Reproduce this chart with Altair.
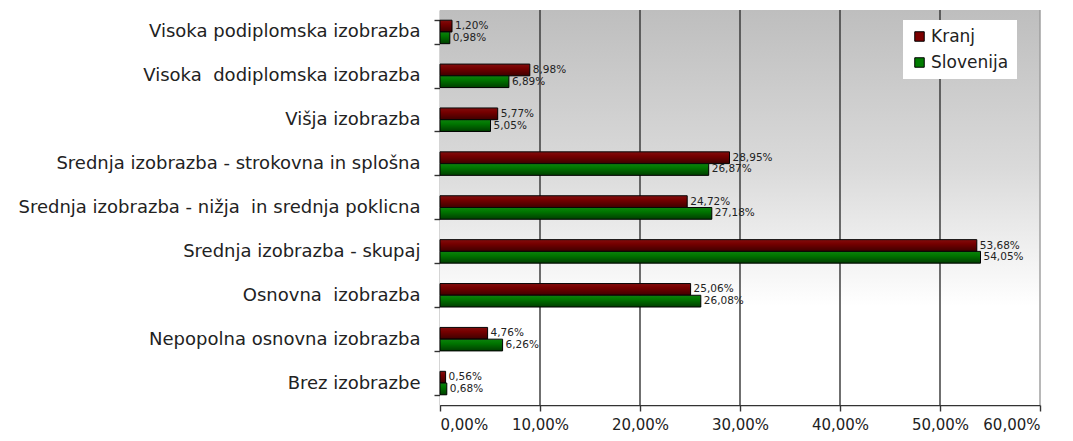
import altair as alt
import pandas as pd

categories = [
    "Visoka podiplomska izobrazba",
    "Visoka\u00a0 dodiplomska izobrazba",
    "Višja izobrazba",
    "Srednja izobrazba - strokovna in splošna",
    "Srednja izobrazba - nižja\u00a0 in srednja poklicna",
    "Srednja izobrazba - skupaj",
    "Osnovna\u00a0 izobrazba",
    "Nepopolna osnovna izobrazba",
    "Brez izobrazbe",
]
series = ["Kranj", "Slovenija"]
kranj = [1.20, 8.98, 5.77, 28.95, 24.72, 53.68, 25.06, 4.76, 0.56]
slovenija = [0.98, 6.89, 5.05, 26.87, 27.18, 54.05, 26.08, 6.26, 0.68]
x_ticks = [0, 10, 20, 30, 40, 50, 60]
grid_vals = [10, 20, 30, 40, 50, 60]

rows = []
for c, k, s in zip(categories, kranj, slovenija):
    rows.append({"cat": c, "series": "Kranj", "v": k})
    rows.append({"cat": c, "series": "Slovenija", "v": s})
df = pd.DataFrame(rows)

W, H = 600, 395
FONT = "DejaVu Sans"

xscale = alt.Scale(domain=[0, 60], nice=False)

bg = alt.Chart(pd.DataFrame({"a": [0]})).mark_rect(
    color={"gradient": "linear", "x1": 0, "y1": 0, "x2": 0, "y2": 1,
           "stops": [{"offset": 0, "color": "#bebebe"},
                     {"offset": 0.4, "color": "#dadada"},
                     {"offset": 0.75, "color": "#ffffff"},
                     {"offset": 1, "color": "#ffffff"}]}
).encode(x=alt.value(0), x2=alt.value(W), y=alt.value(0), y2=alt.value(H))

grid = alt.Chart(pd.DataFrame({"g": grid_vals})).mark_rule(strokeWidth=1.4).encode(
    x=alt.X("g:Q", scale=xscale),
    y=alt.value(0), y2=alt.value(H),
    color=alt.condition("datum.g >= 60", alt.value("#9a9a9a"), alt.value("#333333")),
)

xenc = alt.X("v:Q", scale=xscale,
             axis=alt.Axis(values=x_ticks, title=None,
                           labelExpr="replace(format(datum.value, '.2f'), '.', ',') + '%'",
                           grid=False, domainColor="#333333", domainWidth=1.4,
                           tickColor="#333333", tickSize=6, tickWidth=1.4,
                           labelFontSize=15, labelFont=FONT, labelColor="#222222",
                           labelPadding=6))
yenc = alt.Y("cat:N", sort=categories,
             scale=alt.Scale(paddingInner=0.465, paddingOuter=0.2325),
             axis=alt.Axis(title=None, tickBand="extent", tickSize=6, tickColor="#333333",
                           tickWidth=1.4, domainColor="#333333", domainWidth=1.4,
                           labelFontSize=18, labelFont=FONT, labelColor="#222222",
                           labelPadding=14, labelLimit=0))
yoff = alt.YOffset("series:N", sort=series)

bars = alt.Chart(df).mark_bar(stroke="#000000", strokeWidth=1).encode(
    x=xenc, y=yenc, yOffset=yoff,
    color=alt.Color("series:N", sort=series,
                    scale=alt.Scale(domain=series, range=["#7c0000", "#007c00"]),
                    legend=alt.Legend(title=None, orient="none", legendX=463, legendY=10,
                                      fillColor="#ffffff", padding=8, symbolType="square",
                                      symbolSize=90, symbolStrokeColor="#000000",
                                      symbolStrokeWidth=1, labelFontSize=17, labelFont=FONT,
                                      labelColor="#222222", rowPadding=8, symbolOffset=0,
                                      labelOffset=3)),
)

shade = alt.Chart(df).mark_bar(
    color={"gradient": "linear", "x1": 0, "y1": 0, "x2": 0, "y2": 1,
           "stops": [{"offset": 0, "color": "rgba(255,255,255,0.05)"},
                     {"offset": 0.35, "color": "rgba(0,0,0,0.05)"},
                     {"offset": 1, "color": "rgba(0,0,0,0.5)"}]}
).encode(x="v:Q", y=alt.Y("cat:N", sort=categories), yOffset=yoff)

labels = alt.Chart(df).mark_text(align="left", baseline="middle", dx=3, fontSize=10.5,
                                 font=FONT, color="#222222").encode(
    x="v:Q", y=alt.Y("cat:N", sort=categories), yOffset=yoff,
    text=alt.Text("lbl:N"),
).transform_calculate(lbl="replace(format(datum.v, '.2f'), '.', ',') + '%'")

chart = alt.layer(bg, grid, bars, shade, labels).properties(
    width=W, height=H,
    autosize=alt.AutoSizeParams(type="none"),
    padding={"left": 432, "top": 2, "right": 25, "bottom": 36},
).configure_view(stroke=None)

chart.save("out.html", embed_options={"renderer": "svg", "actions": False})
